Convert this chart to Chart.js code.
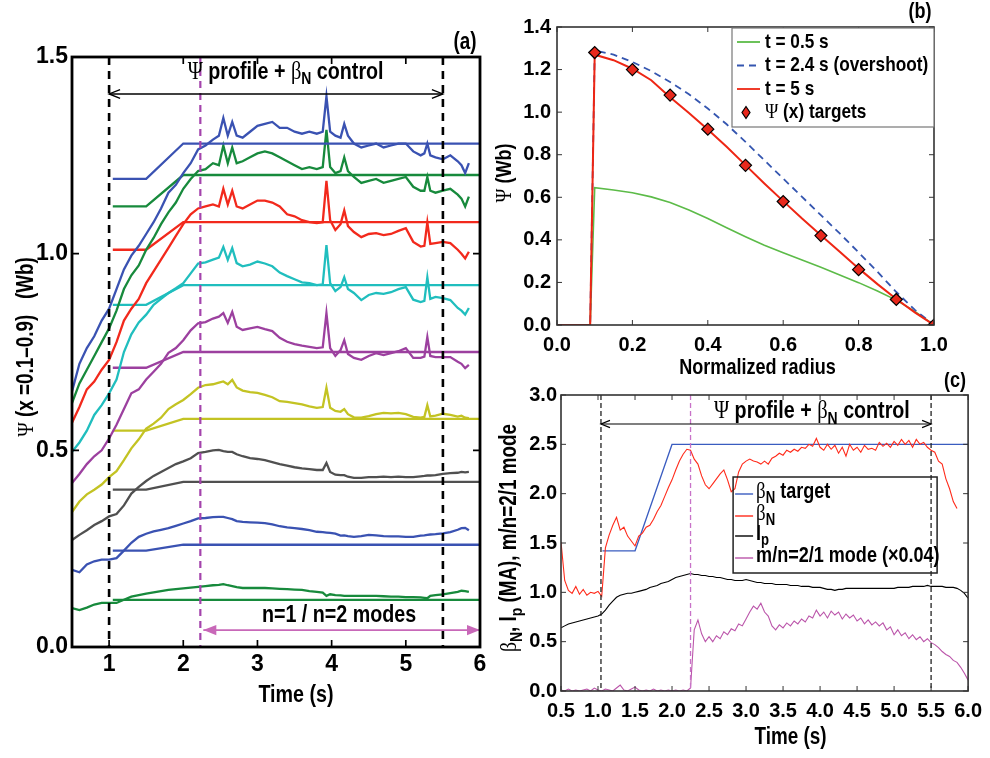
<!DOCTYPE html>
<html>
<head>
<meta charset="utf-8">
<script src="https://cdn.jsdelivr.net/npm/chart.js@4.4.0/dist/chart.umd.min.js"></script>
<style>
html, body { margin: 0; padding: 0; background: #fff; }
body { width: 990px; height: 758px; position: relative; overflow: hidden; }
canvas { position: absolute; }
#chartA { left: 0; top: 0; }
#chartB { left: 490px; top: 0; }
#chartC { left: 490px; top: 372px; }
</style>
</head>
<body>
<canvas id="chartA" width="495" height="725"></canvas>
<canvas id="chartB" width="500" height="385"></canvas>
<canvas id="chartC" width="500" height="386"></canvas>
<script>
// ---- panel (a): flux at x = 0.1 ... 0.9 vs time ----
const timeA = [0.5,0.6,0.7,0.8,0.9,1.0,1.1,1.2,1.3,1.4,
  1.5,1.6,1.7,1.8,1.9,2.0,2.1,2.2,2.3,2.4,
  2.48,2.54,2.6,2.66,2.72,2.8,2.9,3.0,3.1,3.2,
  3.3,3.4,3.5,3.6,3.7,3.8,3.88,3.93,3.98,4.05,
  4.12,4.17,4.22,4.3,4.4,4.5,4.6,4.7,4.8,4.9,
  5.0,5.1,5.2,5.25,5.29,5.33,5.4,5.5,5.6,5.7,
  5.75,5.8,5.85];

const psi01 = [0.65,0.72,0.76,0.79,0.83,0.86,0.91,0.96,0.995,1.02,
  1.05,1.08,1.115,1.155,1.175,1.205,1.23,1.265,1.275,1.29,
  1.30,1.345,1.30,1.335,1.30,1.295,1.31,1.325,1.33,1.335,
  1.32,1.32,1.31,1.305,1.31,1.305,1.31,1.40,1.31,1.30,
  1.295,1.33,1.30,1.28,1.27,1.275,1.28,1.27,1.275,1.28,
  1.28,1.26,1.25,1.255,1.28,1.25,1.245,1.24,1.25,1.235,
  1.225,1.205,1.23];
const psi02 = [0.62,0.67,0.705,0.74,0.775,0.81,0.855,0.91,0.945,0.97,
  1.01,1.04,1.075,1.105,1.13,1.165,1.19,1.21,1.215,1.23,
  1.225,1.275,1.23,1.27,1.23,1.235,1.245,1.255,1.26,1.255,
  1.245,1.235,1.225,1.215,1.22,1.215,1.22,1.315,1.22,1.205,
  1.21,1.245,1.21,1.195,1.18,1.185,1.19,1.18,1.185,1.19,
  1.195,1.17,1.16,1.16,1.195,1.16,1.155,1.16,1.165,1.15,
  1.14,1.12,1.145];
const psi03 = [0.57,0.61,0.655,0.675,0.705,0.73,0.775,0.83,0.86,0.885,
  0.925,0.955,0.985,1.015,1.045,1.075,1.10,1.115,1.12,1.125,
  1.12,1.165,1.125,1.16,1.12,1.115,1.125,1.135,1.135,1.13,
  1.12,1.10,1.095,1.085,1.08,1.078,1.08,1.185,1.085,1.06,
  1.075,1.11,1.07,1.055,1.042,1.05,1.052,1.047,1.05,1.058,
  1.065,1.03,1.018,1.02,1.08,1.025,1.027,1.03,1.027,1.01,
  1.0,0.988,1.005];
const psi04 = [0.496,0.52,0.55,0.59,0.615,0.645,0.68,0.75,0.795,0.825,
  0.845,0.87,0.885,0.90,0.912,0.925,0.95,0.975,0.978,0.985,
  0.99,1.017,0.984,1.014,0.976,0.968,0.972,0.98,0.975,0.968,
  0.952,0.943,0.935,0.927,0.925,0.92,0.922,1.022,0.925,0.905,
  0.915,0.94,0.91,0.90,0.882,0.895,0.90,0.898,0.902,0.91,
  0.915,0.883,0.877,0.88,0.94,0.885,0.89,0.887,0.882,0.862,
  0.855,0.845,0.862];
const psi05 = [0.417,0.44,0.465,0.485,0.50,0.53,0.565,0.605,0.645,0.655,
  0.68,0.70,0.72,0.748,0.76,0.78,0.805,0.823,0.826,0.835,
  0.84,0.849,0.824,0.852,0.814,0.806,0.81,0.814,0.808,0.803,
  0.786,0.776,0.77,0.766,0.763,0.76,0.762,0.849,0.76,0.74,
  0.755,0.78,0.745,0.735,0.73,0.74,0.747,0.742,0.747,0.752,
  0.76,0.735,0.735,0.738,0.788,0.74,0.737,0.737,0.737,0.725,
  0.72,0.709,0.717];
const psi06 = [0.343,0.37,0.388,0.40,0.413,0.432,0.447,0.475,0.505,0.528,
  0.555,0.568,0.583,0.605,0.617,0.628,0.643,0.659,0.666,0.668,
  0.672,0.675,0.668,0.679,0.66,0.652,0.648,0.646,0.641,0.635,
  0.625,0.623,0.62,0.617,0.612,0.608,0.61,0.659,0.608,0.60,
  0.598,0.605,0.592,0.584,0.583,0.587,0.592,0.595,0.594,0.595,
  0.592,0.585,0.583,0.585,0.615,0.586,0.588,0.593,0.59,0.586,
  0.588,0.583,0.582];
const psi07 = [0.272,0.285,0.297,0.31,0.32,0.332,0.338,0.36,0.39,0.407,
  0.422,0.435,0.445,0.455,0.465,0.472,0.48,0.493,0.496,0.50,
  0.501,0.498,0.496,0.496,0.49,0.485,0.48,0.478,0.475,0.47,
  0.465,0.461,0.457,0.454,0.452,0.45,0.45,0.468,0.445,0.438,
  0.437,0.437,0.433,0.43,0.43,0.432,0.432,0.433,0.432,0.433,
  0.432,0.432,0.434,0.435,0.436,0.436,0.437,0.44,0.442,0.443,
  0.445,0.444,0.445];
const psi08 = [0.196,0.19,0.21,0.218,0.222,0.222,0.226,0.245,0.265,0.28,
  0.288,0.294,0.298,0.302,0.308,0.314,0.32,0.327,0.328,0.33,
  0.331,0.331,0.328,0.325,0.32,0.318,0.317,0.316,0.315,0.312,
  0.307,0.304,0.302,0.30,0.297,0.293,0.292,0.291,0.29,0.288,
  0.283,0.284,0.282,0.28,0.282,0.285,0.284,0.282,0.281,0.281,
  0.28,0.28,0.283,0.284,0.285,0.286,0.287,0.289,0.292,0.298,
  0.302,0.303,0.297];
const psi09 = [0.099,0.094,0.1,0.108,0.112,0.112,0.112,0.12,0.128,0.132,
  0.136,0.139,0.142,0.145,0.147,0.149,0.151,0.153,0.155,0.157,
  0.158,0.16,0.157,0.155,0.152,0.15,0.15,0.15,0.15,0.149,
  0.148,0.147,0.146,0.145,0.142,0.14,0.138,0.13,0.134,0.132,
  0.131,0.13,0.13,0.13,0.13,0.13,0.13,0.129,0.128,0.128,
  0.127,0.127,0.126,0.125,0.124,0.13,0.132,0.134,0.137,0.14,
  0.143,0.142,0.14];

// targets: flat, ramp 1.5 -> 2.0 s, flat
const targetTimeA = [1.05, 1.5, 2.0, 6.0];
const targetStartA = [1.19, 1.12, 1.01, 0.87, 0.71, 0.55, 0.40, 0.245, 0.12];
const targetEndA = [1.28, 1.20, 1.08, 0.92, 0.75, 0.58, 0.42, 0.26, 0.12];
const ticksXA = [1, 2, 3, 4, 5, 6];
const controlTimesA = [1.0, 5.5];
const modeTimeA = 2.23;

// ---- panel (b): flux profiles ----
const radiusB = [0,0.088,0.1,0.15,0.2,0.25,0.3,0.35,0.4,0.45,0.5,0.55,0.6,0.65,0.7,0.75,0.8,0.85,0.9,0.95,1.0];
const psiT05 = [0,0,0.645,0.634,0.621,0.602,0.576,0.54,0.50,0.457,0.415,0.375,0.339,0.305,0.271,0.235,0.199,0.16,0.117,0.063,0];
const psiT24 = [0,0,1.29,1.27,1.236,1.193,1.142,1.084,1.017,0.943,0.86,0.774,0.688,0.602,0.516,0.43,0.341,0.25,0.155,0.07,0];
const psiT5 = [0,0,1.27,1.244,1.204,1.15,1.07,0.996,0.918,0.837,0.751,0.665,0.582,0.50,0.422,0.344,0.266,0.192,0.122,0.058,0];
const targetRadiusB = [0.1,0.2,0.3,0.4,0.5,0.6,0.7,0.8,0.9,1.0];
const targetPsiB = [1.28,1.20,1.08,0.92,0.75,0.58,0.42,0.26,0.12,0.0];

// ---- panel (c): beta_N, Ip, 2/1 mode ----
const timeC = [0.5,0.55,0.6,0.65,0.7,0.75,0.8,0.85,0.9,0.95,
  1.0,1.05,1.1,1.15,1.2,1.25,1.3,1.35,1.4,1.45,
  1.5,1.55,1.6,1.65,1.7,1.75,1.8,1.85,1.9,1.95,
  2.0,2.05,2.1,2.15,2.2,2.25,2.3,2.35,2.4,2.45,
  2.5,2.55,2.6,2.65,2.7,2.75,2.8,2.85,2.9,2.95,
  3.0,3.05,3.1,3.15,3.2,3.25,3.3,3.35,3.4,3.45,
  3.5,3.55,3.6,3.65,3.7,3.75,3.8,3.85,3.9,3.95,
  4.0,4.05,4.1,4.15,4.2,4.25,4.3,4.35,4.4,4.45,
  4.5,4.55,4.6,4.65,4.7,4.75,4.8,4.85,4.9,4.95,
  5.0,5.05,5.1,5.15,5.2,5.25,5.3,5.35,5.4,5.45,
  5.5,5.55,5.6,5.65,5.7,5.75,5.8,5.85,5.9,5.95,
  6.0];
const betaN = [1.51,1.12,1.02,0.99,1.06,0.98,1.03,0.97,1.0,0.99,
  1.01,0.96,1.45,1.58,1.68,1.76,1.63,1.66,1.57,1.52,
  1.47,1.57,1.60,1.66,1.68,1.74,1.82,1.88,1.97,2.06,
  2.14,2.24,2.33,2.40,2.45,2.44,2.35,2.30,2.18,2.09,
  2.05,2.10,2.15,2.20,2.24,2.14,2.02,2.05,2.22,2.30,
  2.33,2.35,2.33,2.32,2.30,2.33,2.30,2.36,2.38,2.41,
  2.39,2.44,2.42,2.45,2.43,2.47,2.46,2.50,2.48,2.56,
  2.47,2.44,2.50,2.45,2.49,2.41,2.47,2.38,2.50,2.44,
  2.47,2.42,2.49,2.45,2.46,2.44,2.52,2.48,2.51,2.47,
  2.53,2.49,2.55,2.50,2.54,2.47,2.55,2.50,2.52,2.47,
  2.44,2.42,2.33,2.30,2.15,2.05,1.92,1.85,null,null,
  null];
const plasmaCurrent = [0.64,0.66,0.68,0.69,0.70,0.71,0.72,0.73,0.74,0.75,
  0.76,0.78,0.82,0.87,0.91,0.95,0.97,0.98,0.99,0.99,
  1.00,1.01,1.02,1.03,1.05,1.06,1.07,1.09,1.10,1.11,
  1.13,1.15,1.16,1.17,1.18,1.19,1.18,1.18,1.17,1.17,
  1.16,1.16,1.15,1.15,1.14,1.13,1.13,1.12,1.12,1.12,
  1.13,1.12,1.11,1.10,1.10,1.09,1.09,1.09,1.08,1.08,
  1.08,1.08,1.07,1.07,1.07,1.06,1.06,1.06,1.05,1.05,
  1.05,1.04,1.03,1.03,1.02,1.03,1.03,1.04,1.04,1.04,
  1.04,1.04,1.04,1.04,1.04,1.04,1.04,1.04,1.04,1.04,
  1.04,1.05,1.05,1.05,1.05,1.06,1.06,1.06,1.06,1.07,
  1.06,1.06,1.06,1.06,1.05,1.05,1.05,1.04,1.02,0.99,
  0.94];
const mode21 = [0.01,0.0,0.02,0.0,0.01,0.0,0.01,0.02,0.0,0.03,
  0.01,0.0,0.02,0.01,0.0,0.03,0.06,0.01,0.0,0.02,
  0.04,0.01,0.0,0.01,0.0,0.02,0.0,0.01,0.0,0.01,
  0.0,0.01,0.0,0.01,0.0,0.03,0.62,0.72,0.58,0.50,
  0.55,0.50,0.56,0.53,0.60,0.57,0.63,0.61,0.68,0.66,
  0.73,0.80,0.86,0.83,0.89,0.80,0.76,0.66,0.62,0.67,
  0.64,0.69,0.66,0.71,0.68,0.73,0.70,0.76,0.74,0.82,
  0.76,0.80,0.74,0.81,0.77,0.80,0.73,0.78,0.74,0.77,
  0.71,0.74,0.68,0.72,0.67,0.70,0.66,0.69,0.62,0.65,
  0.57,0.62,0.56,0.59,0.53,0.57,0.52,0.55,0.50,0.53,
  0.49,0.47,0.44,0.40,0.37,0.35,0.31,0.29,0.24,0.18,
  0.11];
const betaTargetTime = [1.06, 1.5, 2.0, 6.0];
const betaTargetValue = [1.42, 1.42, 2.5, 2.5];
const controlTimesC = [1.04, 5.5];
const modeTimeC = 2.25;

const SANS = "'Liberation Sans',Arial,Helvetica,sans-serif";
const SERIF = "'Liberation Serif','DejaVu Serif',serif";
const SQUEEZE = 0.82;
Chart.defaults.font.family = SANS;

const pts = (xs, ys) => xs.map((x, i) => ({ x: x, y: ys[i] }));

// text with greek (serif) and subscript pieces, narrowed like a condensed face
function rich(ctx, parts, x, y, size, align, rotate) {
  const fontFor = p => {
    const sz = p[1] === 's' ? Math.round(size * 0.72) : size;
    return p[1] === 'g' ? `normal ${Math.round(sz * 1.05)}px ${SERIF}` : `bold ${sz}px ${SANS}`;
  };
  ctx.save();
  ctx.translate(x, y);
  if (rotate) ctx.rotate(-Math.PI / 2);
  ctx.scale(SQUEEZE, 1);
  let total = 0;
  parts.forEach(p => { ctx.font = fontFor(p); total += ctx.measureText(p[0]).width; });
  let cx = align === 'center' ? -total / 2 : (align === 'right' ? -total : 0);
  ctx.textBaseline = 'middle';
  ctx.fillStyle = '#000';
  parts.forEach(p => {
    ctx.font = fontFor(p);
    ctx.fillText(p[0], cx, p[1] === 's' ? size * 0.32 : 0);
    cx += ctx.measureText(p[0]).width;
  });
  ctx.restore();
}

function vline(chart, t, color, width, dash) {
  const { ctx, chartArea: a, scales: { x } } = chart;
  const px = x.getPixelForValue(t);
  ctx.save();
  ctx.strokeStyle = color; ctx.lineWidth = width; ctx.setLineDash(dash);
  ctx.beginPath(); ctx.moveTo(px, a.top); ctx.lineTo(px, a.bottom); ctx.stroke();
  ctx.restore();
}

function harrow(chart, t1, t2, v, color, width, head, filled) {
  const { ctx, scales: { x, y } } = chart;
  const x1 = x.getPixelForValue(t1), x2 = x.getPixelForValue(t2), py = y.getPixelForValue(v);
  ctx.save();
  ctx.strokeStyle = color; ctx.fillStyle = color; ctx.lineWidth = width;
  ctx.beginPath(); ctx.moveTo(x1, py); ctx.lineTo(x2, py); ctx.stroke();
  [[x1, 1], [x2, -1]].forEach(([px, d]) => {
    ctx.beginPath();
    ctx.moveTo(px + d * head, py - head * 0.4);
    ctx.lineTo(px, py);
    ctx.lineTo(px + d * head, py + head * 0.4);
    if (filled) { ctx.closePath(); ctx.fill(); } else ctx.stroke();
  });
  ctx.restore();
}

function frame(chart, width, color, tickLen) {
  const { ctx, chartArea: a, scales: { x, y } } = chart;
  ctx.save();
  ctx.strokeStyle = color; ctx.lineWidth = Math.max(1, width * 0.6);
  ctx.beginPath();
  x.ticks.forEach(t => {
    const px = x.getPixelForValue(t.value);
    ctx.moveTo(px, a.bottom); ctx.lineTo(px, a.bottom - tickLen);
    ctx.moveTo(px, a.top); ctx.lineTo(px, a.top + tickLen);
  });
  y.ticks.forEach(t => {
    const py = y.getPixelForValue(t.value);
    ctx.moveTo(a.left, py); ctx.lineTo(a.left + tickLen, py);
    ctx.moveTo(a.right, py); ctx.lineTo(a.right - tickLen, py);
  });
  ctx.stroke();
  ctx.lineWidth = width;
  ctx.strokeRect(a.left, a.top, a.right - a.left, a.bottom - a.top);
  ctx.restore();
}

function axisScales(xOpt, yOpt, font, xPad, yPad, yWidth, xHeight) {
  const common = { grid: { display: false, drawTicks: false }, border: { display: false } };
  return {
    x: Object.assign({ type: 'linear' }, common, xOpt, {
      afterFit: s => { s.height = xHeight; },
      ticks: Object.assign({ font: font, color: '#000', padding: xPad, maxRotation: 0, autoSkip: false }, xOpt.ticks)
    }),
    y: Object.assign({ type: 'linear' }, common, yOpt, {
      afterFit: s => { s.width = yWidth; },
      ticks: Object.assign({ font: font, color: '#000', padding: yPad, autoSkip: false }, yOpt.ticks)
    })
  };
}

const baseOptions = {
  animation: false, responsive: false, events: [],
  plugins: { legend: { display: false }, tooltip: { enabled: false } }
};

// ================= panel (a) =================
const seriesA = [psi01, psi02, psi03, psi04, psi05, psi06, psi07, psi08, psi09];
const colorsA = ['#3a52b2', '#178a3c', '#f2291c', '#20bebe', '#9c409f', '#c3c323', '#505050', '#3a52b2', '#178a3c'];
const datasetsA = [];
seriesA.forEach((s, i) => {
  datasetsA.push({ data: pts(timeA, s), showLine: true, borderColor: colorsA[i], borderWidth: 2.3, pointRadius: 0 });
  const tv = [targetStartA[i], targetStartA[i], targetEndA[i], targetEndA[i]];
  datasetsA.push({ data: pts(targetTimeA, tv), showLine: true, borderColor: colorsA[i], borderWidth: 2.3, pointRadius: 0 });
});

const panelA = {
  id: 'panelA',
  afterDatasetsDraw(chart) {
    const { ctx, chartArea: a, scales: { x, y } } = chart;
    controlTimesA.forEach(t => vline(chart, t, '#000', 2.6, [8, 6]));
    vline(chart, modeTimeA, '#a444ac', 2.2, [7, 5]);
    harrow(chart, controlTimesA[0], controlTimesA[1], 1.406, '#000', 1.4, 11, false);
    harrow(chart, modeTimeA + 0.04, 6.0, 0.043, '#c868b8', 1.8, 13, true);
    rich(ctx, [['Ψ', 'g'], [' profile + ', ''], ['β', 'g'], ['N', 's'], [' control', '']],
      x.getPixelForValue(3.38), y.getPixelForValue(1.462), 24, 'center');
    rich(ctx, [['n=1 / n=2 modes', '']], x.getPixelForValue(4.1), y.getPixelForValue(0.08), 24, 'center');
    frame(chart, 2.8, '#000', 7);
    rich(ctx, [['Ψ', 'g'], [' (x =0.1–0.9)   (Wb)', '']], a.left - 45, (a.top + a.bottom) / 2 - 5, 23, 'center', true);
    rich(ctx, [['Time (s)', '']], (a.left + a.right) / 2 + 20, a.bottom + 48, 24, 'center');
    rich(ctx, [['(a)', '']], a.right - 15, a.top - 14, 23, 'center');
  }
};

const fontA = { family: SANS, size: 23, weight: 'bold' };
new Chart(document.getElementById('chartA'), {
  type: 'scatter',
  data: { datasets: datasetsA },
  options: Object.assign({}, baseOptions, {
    layout: { padding: { top: 57, right: 15, left: 0, bottom: 0 } },
    scales: axisScales(
      { min: 0.5, max: 6, afterBuildTicks: s => { s.ticks = ticksXA.map(v => ({ value: v })); },
        ticks: { callback: v => String(v) } },
      { min: 0, max: 1.5, ticks: { stepSize: 0.5, callback: v => v.toFixed(1) } },
      fontA, 4, 4, 72, 78)
  }),
  plugins: [panelA]
});

// ================= panel (b) =================
const colorsB = { t05: '#5cbb48', t24: '#3556b0', t5: '#ee2614', target: '#e8281c' };
const legendB = [
  { parts: [['t = 0.5 s', '']], color: colorsB.t05, dash: [] },
  { parts: [['t = 2.4 s (overshoot)', '']], color: colorsB.t24, dash: [7, 5] },
  { parts: [['t = 5 s', '']], color: colorsB.t5, dash: [] },
  { parts: [['Ψ', 'g'], [' (x) targets', '']], color: null, dash: [] }
];

const panelB = {
  id: 'panelB',
  afterDatasetsDraw(chart) {
    const { ctx, chartArea: a } = chart;
    frame(chart, 1.6, '#333', 5);
    // legend box
    const bx = a.right - 202, by = a.top + 1;
    ctx.save();
    ctx.fillStyle = '#fff';
    ctx.fillRect(bx, by, 202, 99);
    ctx.strokeStyle = '#777'; ctx.lineWidth = 1.2;
    ctx.strokeRect(bx, by, 202, 99);
    legendB.forEach((row, i) => {
      const ry = by + 14 + i * 23.5;
      if (row.color) {
        ctx.strokeStyle = row.color; ctx.lineWidth = 1.8; ctx.setLineDash(row.dash);
        ctx.beginPath(); ctx.moveTo(bx + 5, ry); ctx.lineTo(bx + 28, ry); ctx.stroke();
        ctx.setLineDash([]);
      } else {
        ctx.fillStyle = colorsB.target; ctx.strokeStyle = '#000'; ctx.lineWidth = 1.2;
        ctx.beginPath();
        ctx.moveTo(bx + 14, ry - 6); ctx.lineTo(bx + 18, ry); ctx.lineTo(bx + 14, ry + 6); ctx.lineTo(bx + 10, ry);
        ctx.closePath(); ctx.fill(); ctx.stroke();
      }
      rich(ctx, row.parts, bx + 33, ry, 21, 'left');
    });
    ctx.restore();
    rich(ctx, [['Ψ', 'g'], [' (Wb)', '']], a.left - 52, a.top + 146, 22, 'center', true);
    rich(ctx, [['Normalized radius', '']], (a.left + a.right) / 2 + 12, a.bottom + 43, 22, 'center');
    rich(ctx, [['(b)', '']], a.right - 14, a.top - 15, 22, 'center');
  }
};

const fontB = { family: SANS, size: 20, weight: 'bold' };
new Chart(document.getElementById('chartB'), {
  type: 'scatter',
  data: {
    datasets: [
      { data: pts(targetRadiusB, targetPsiB), showLine: false, pointStyle: 'rectRot', pointRadius: 6,
        backgroundColor: colorsB.target, borderColor: '#000', borderWidth: 1.2 },
      { data: pts(radiusB, psiT5), showLine: true, borderColor: colorsB.t5, borderWidth: 2, pointRadius: 0 },
      { data: pts(radiusB, psiT24), showLine: true, borderColor: colorsB.t24, borderWidth: 1.8, borderDash: [7, 5], pointRadius: 0 },
      { data: pts(radiusB, psiT05), showLine: true, borderColor: colorsB.t05, borderWidth: 1.6, pointRadius: 0 }
    ]
  },
  options: Object.assign({}, baseOptions, {
    layout: { padding: { top: 27, right: 56, left: 0, bottom: 0 } },
    scales: axisScales(
      { min: 0, max: 1, ticks: { stepSize: 0.2, callback: v => v.toFixed(1) } },
      { min: 0, max: 1.4, ticks: { stepSize: 0.2, callback: v => v.toFixed(1) } },
      fontB, 8, 6, 67, 60)
  }),
  plugins: [panelB]
});

// ================= panel (c) =================
const colorsC = { target: '#3a5cc0', beta: '#ff2a1a', ip: '#000000', mode: '#bb55aa' };
const legendC = [
  { parts: [['β', 'g'], ['N', 's'], [' target', '']], color: colorsC.target, dy: 99 },
  { parts: [['β', 'g'], ['N', 's']], color: colorsC.beta, dy: 121 },
  { parts: [['I', ''], ['p', 's']], color: colorsC.ip, dy: 141 },
  { parts: [['m/n=2/1 mode (×0.04)', '']], color: colorsC.mode, dy: 163 }
];

const panelC = {
  id: 'panelC',
  afterDatasetsDraw(chart) {
    const { ctx, chartArea: a, scales: { x, y } } = chart;
    controlTimesC.forEach(t => vline(chart, t, '#222', 1.3, [5, 3]));
    vline(chart, modeTimeC, '#c872c8', 1.3, [5, 3]);
    harrow(chart, controlTimesC[0], controlTimesC[1], 2.706, '#000', 1.2, 9, false);
    rich(ctx, [['Ψ', 'g'], [' profile + ', ''], ['β', 'g'], ['N', 's'], [' control', '']],
      x.getPixelForValue(3.89), y.getPixelForValue(2.83), 24, 'center');
    frame(chart, 1.6, '#333', 5);
    const bx = a.right - 235, by = a.top + 82;
    ctx.save();
    ctx.strokeStyle = '#222'; ctx.lineWidth = 1.5;
    ctx.strokeRect(bx, by, 204, 96);
    legendC.forEach(row => {
      const ry = a.top + row.dy;
      ctx.strokeStyle = row.color; ctx.lineWidth = 1.4;
      ctx.beginPath(); ctx.moveTo(bx + 2, ry); ctx.lineTo(bx + 20, ry); ctx.stroke();
      rich(ctx, row.parts, bx + 23, ry - 2, 22, 'left');
    });
    ctx.restore();
    rich(ctx, [['β', 'g'], ['N', 's'], [', I', ''], ['p', 's'], [' (MA), m/n=2/1 mode', '']],
      a.left - 51, (a.top + a.bottom) / 2 - 5, 23, 'center', true);
    rich(ctx, [['Time (s)', '']], (a.left + a.right) / 2 + 26, a.bottom + 47, 23, 'center');
    rich(ctx, [['(c)', '']], a.right - 13, a.top - 14, 22, 'center');
  }
};

const fontC = { family: SANS, size: 20, weight: 'bold' };
new Chart(document.getElementById('chartC'), {
  type: 'scatter',
  data: {
    datasets: [
      { data: pts(timeC, betaN), showLine: true, borderColor: colorsC.beta, borderWidth: 1.1, pointRadius: 0 },
      { data: pts(betaTargetTime, betaTargetValue), showLine: true, borderColor: colorsC.target, borderWidth: 1.4, pointRadius: 0 },
      { data: pts(timeC, plasmaCurrent), showLine: true, borderColor: colorsC.ip, borderWidth: 1.1, pointRadius: 0 },
      { data: pts(timeC, mode21), showLine: true, borderColor: colorsC.mode, borderWidth: 1.1, pointRadius: 0 }
    ]
  },
  options: Object.assign({}, baseOptions, {
    layout: { padding: { top: 23, right: 20, left: 0, bottom: 0 } },
    scales: axisScales(
      { min: 0.5, max: 6, ticks: { stepSize: 0.5, callback: v => v.toFixed(1) } },
      { min: 0, max: 3, ticks: { stepSize: 0.5, callback: v => v.toFixed(1) } },
      fontC, 8, 4, 71, 67)
  }),
  plugins: [panelC]
});
</script>
</body>
</html>
